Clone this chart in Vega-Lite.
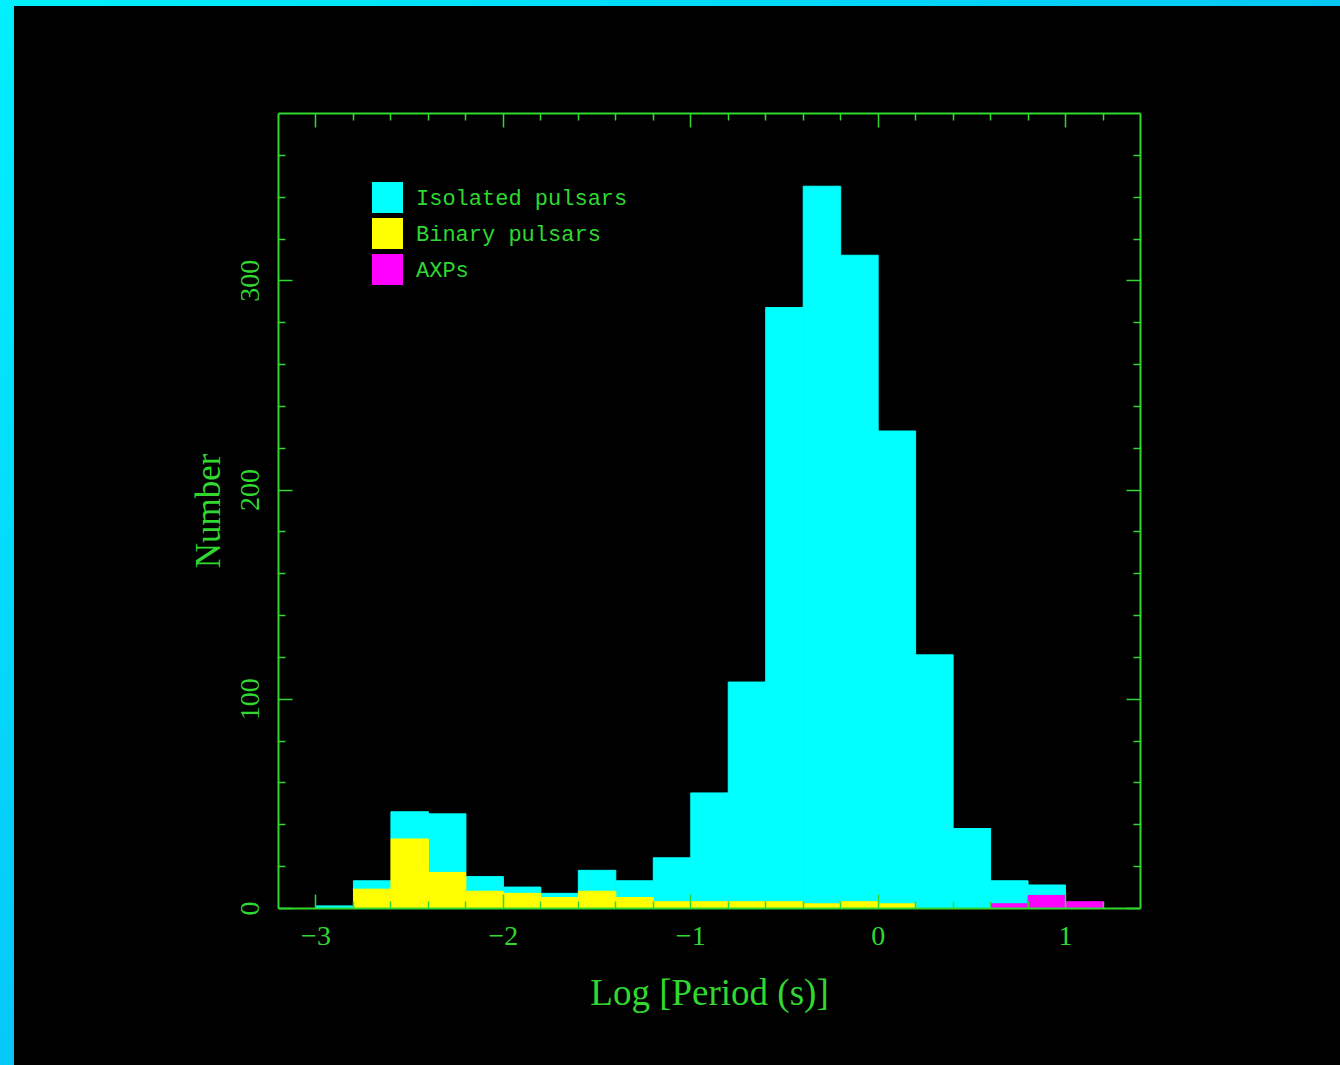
{
  "$schema": "https://vega.github.io/schema/vega-lite/v6.json",
  "width": 862,
  "height": 795,
  "autosize": {"type": "none"},
  "padding": {"left": 278, "top": 113, "right": 200, "bottom": 157},
  "background": "#08c8f4",
  "config": {
    "view": {"stroke": null},
    "axis": {
      "labelFont": "Liberation Serif",
      "labelFontSize": 28,
      "labelColor": "#30d830",
      "titleFont": "Liberation Serif",
      "titleFontSize": 35,
      "titleFontWeight": "normal",
      "titleColor": "#30d830",
      "domainColor": "#30d830",
      "domainWidth": 2,
      "tickColor": "#30d830",
      "tickWidth": 1.5,
      "grid": false
    }
  },
  "resolve": {"axis": {"x": "independent", "y": "independent"}},
  "layer": [
    {
      "data": {"values": [{}]},
      "mark": {
        "type": "rect",
        "clip": false,
        "fill": {
          "gradient": "linear",
          "x1": 0, "y1": 0, "x2": 1, "y2": 1,
          "stops": [
            {"offset": 0, "color": "#00f0ff"},
            {"offset": 0.5, "color": "#06c8f8"},
            {"offset": 1, "color": "#1aa8ee"}
          ]
        }
      },
      "encoding": {
        "x": {"datum": -4.684, "type": "quantitative", "scale": {"domain": [-3.2, 1.4], "nice": false, "zero": false}, "axis": null},
        "x2": {"datum": 2.467},
        "y": {"datum": -75, "type": "quantitative", "scale": {"domain": [0, 380], "nice": false, "zero": false}, "axis": null},
        "y2": {"datum": 434}
      }
    },
    {
      "data": {"values": [{}]},
      "mark": {"type": "rect", "fill": "#000000", "clip": false},
      "encoding": {
        "x": {
          "datum": -4.609,
          "type": "quantitative",
          "scale": {"domain": [-3.2, 1.4], "nice": false, "zero": false},
          "axis": {
            "orient": "top",
            "zindex": 2,
            "values": [-3, -2.8, -2.6, -2.4, -2.2, -2, -1.8, -1.6, -1.4, -1.2, -1, -0.8, -0.6, -0.4, -0.2, 0, 0.2, 0.4, 0.6, 0.8, 1, 1.2],
            "tickSize": {"condition": {"test": "abs(datum.value - round(datum.value)) < 0.001", "value": -14}, "value": -7},
            "labels": false,
            "title": null
          }
        },
        "x2": {"datum": 3},
        "y": {
          "datum": -100,
          "type": "quantitative",
          "scale": {"domain": [0, 380], "nice": false, "zero": false},
          "axis": {
            "orient": "right",
            "zindex": 2,
            "values": [0, 20, 40, 60, 80, 100, 120, 140, 160, 180, 200, 220, 240, 260, 280, 300, 320, 340, 360],
            "tickSize": {"condition": {"test": "datum.value % 100 == 0", "value": -14}, "value": -7},
            "labels": false,
            "title": null
          }
        },
        "y2": {"datum": 431.1}
      }
    },
    {
      "data": {
        "values": [
          {"lo": -3.0, "hi": -2.8, "type": "Isolated pulsars", "count": 1},
          {"lo": -2.8, "hi": -2.6, "type": "Isolated pulsars", "count": 4},
          {"lo": -2.6, "hi": -2.4, "type": "Isolated pulsars", "count": 13},
          {"lo": -2.4, "hi": -2.2, "type": "Isolated pulsars", "count": 28},
          {"lo": -2.2, "hi": -2.0, "type": "Isolated pulsars", "count": 7},
          {"lo": -2.0, "hi": -1.8, "type": "Isolated pulsars", "count": 3},
          {"lo": -1.8, "hi": -1.6, "type": "Isolated pulsars", "count": 2},
          {"lo": -1.6, "hi": -1.4, "type": "Isolated pulsars", "count": 10},
          {"lo": -1.4, "hi": -1.2, "type": "Isolated pulsars", "count": 8},
          {"lo": -1.2, "hi": -1.0, "type": "Isolated pulsars", "count": 21},
          {"lo": -1.0, "hi": -0.8, "type": "Isolated pulsars", "count": 52},
          {"lo": -0.8, "hi": -0.6, "type": "Isolated pulsars", "count": 105},
          {"lo": -0.6, "hi": -0.4, "type": "Isolated pulsars", "count": 284},
          {"lo": -0.4, "hi": -0.2, "type": "Isolated pulsars", "count": 343},
          {"lo": -0.2, "hi": 0.0, "type": "Isolated pulsars", "count": 309},
          {"lo": 0.0, "hi": 0.2, "type": "Isolated pulsars", "count": 226},
          {"lo": 0.2, "hi": 0.4, "type": "Isolated pulsars", "count": 121},
          {"lo": 0.4, "hi": 0.6, "type": "Isolated pulsars", "count": 38},
          {"lo": 0.6, "hi": 0.8, "type": "Isolated pulsars", "count": 11},
          {"lo": 0.8, "hi": 1.0, "type": "Isolated pulsars", "count": 5},
          {"lo": -2.8, "hi": -2.6, "type": "Binary pulsars", "count": 9},
          {"lo": -2.6, "hi": -2.4, "type": "Binary pulsars", "count": 33},
          {"lo": -2.4, "hi": -2.2, "type": "Binary pulsars", "count": 17},
          {"lo": -2.2, "hi": -2.0, "type": "Binary pulsars", "count": 8},
          {"lo": -2.0, "hi": -1.8, "type": "Binary pulsars", "count": 7},
          {"lo": -1.8, "hi": -1.6, "type": "Binary pulsars", "count": 5},
          {"lo": -1.6, "hi": -1.4, "type": "Binary pulsars", "count": 8},
          {"lo": -1.4, "hi": -1.2, "type": "Binary pulsars", "count": 5},
          {"lo": -1.2, "hi": -1.0, "type": "Binary pulsars", "count": 3},
          {"lo": -1.0, "hi": -0.8, "type": "Binary pulsars", "count": 3},
          {"lo": -0.8, "hi": -0.6, "type": "Binary pulsars", "count": 3},
          {"lo": -0.6, "hi": -0.4, "type": "Binary pulsars", "count": 3},
          {"lo": -0.4, "hi": -0.2, "type": "Binary pulsars", "count": 2},
          {"lo": -0.2, "hi": 0.0, "type": "Binary pulsars", "count": 3},
          {"lo": 0.0, "hi": 0.2, "type": "Binary pulsars", "count": 2},
          {"lo": 0.6, "hi": 0.8, "type": "AXPs", "count": 2},
          {"lo": 0.8, "hi": 1.0, "type": "AXPs", "count": 6},
          {"lo": 1.0, "hi": 1.2, "type": "AXPs", "count": 3}
        ]
      },
      "mark": {"type": "bar", "strokeWidth": 1, "binSpacing": 0},
      "encoding": {
        "x": {
          "field": "lo",
          "type": "quantitative",
          "bin": "binned",
          "scale": {"domain": [-3.2, 1.4], "nice": false, "zero": false},
          "axis": {
            "orient": "bottom",
            "zindex": 2,
            "values": [-3, -2.8, -2.6, -2.4, -2.2, -2, -1.8, -1.6, -1.4, -1.2, -1, -0.8, -0.6, -0.4, -0.2, 0, 0.2, 0.4, 0.6, 0.8, 1, 1.2],
            "tickSize": {"condition": {"test": "abs(datum.value - round(datum.value)) < 0.001", "value": -14}, "value": -7},
            "labelExpr": "abs(datum.value - round(datum.value)) < 0.001 ? format(datum.value, 'd') : ''",
            "labelPadding": 28,
            "labelBaseline": "top",
            "labelAngle": 0,
            "labelFlush": false,
            "labelOverlap": false,
            "title": "Log [Period (s)]",
            "titleFontSize": 37,
            "titlePadding": 18
          }
        },
        "x2": {"field": "hi"},
        "y": {
          "field": "count",
          "type": "quantitative",
          "stack": "zero",
          "scale": {"domain": [0, 380], "nice": false, "zero": false},
          "axis": {
            "orient": "left",
            "zindex": 2,
            "values": [0, 20, 40, 60, 80, 100, 120, 140, 160, 180, 200, 220, 240, 260, 280, 300, 320, 340, 360],
            "tickSize": {"condition": {"test": "datum.value % 100 == 0", "value": -14}, "value": -7},
            "labelExpr": "datum.value % 100 == 0 ? datum.label : ''",
            "labelPadding": 34,
            "labelAngle": 270,
            "labelAlign": "center",
            "labelBaseline": "alphabetic",
            "labelOverlap": false,
            "title": "Number",
            "titlePadding": 3
          }
        },
        "color": {
          "field": "type",
          "type": "nominal",
          "scale": {"domain": ["Isolated pulsars", "Binary pulsars", "AXPs"], "range": ["#00ffff", "#ffff00", "#ff00ff"]},
          "legend": {
            "orient": "none",
            "legendX": 94,
            "legendY": 69,
            "title": null,
            "symbolType": "square",
            "symbolSize": 961,
            "symbolStrokeWidth": 0,
            "symbolOpacity": 1,
            "labelFont": "Liberation Mono",
            "labelFontSize": 22,
            "labelColor": "#30d830",
            "labelOffset": 13,
            "rowPadding": 5,
            "padding": 0,
            "labelLimit": 0
          }
        },
        "stroke": {
          "field": "type",
          "type": "nominal",
          "scale": {"domain": ["Isolated pulsars", "Binary pulsars", "AXPs"], "range": ["#00ffff", "#ffff00", "#ff00ff"]},
          "legend": null
        },
        "order": {"field": "type", "sort": "ascending"}
      }
    }
  ]
}
